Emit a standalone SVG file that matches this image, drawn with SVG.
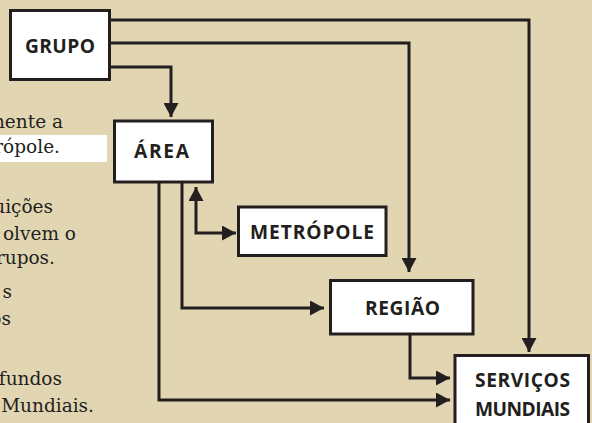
<svg xmlns="http://www.w3.org/2000/svg" width="592" height="423" viewBox="0 0 592 423">
<style>
.bg{fill:#e2d6b2}
.box{fill:#ffffff;stroke:#231f20;stroke-width:3}
.lbl{font-family:"Open Sans","Noto Sans","DejaVu Sans",sans-serif;font-weight:700;font-size:19.2px;fill:#231f20;text-anchor:middle}
.body{font-family:"DejaVu Serif","Liberation Serif",serif;font-size:18.5px;fill:#231f20;text-anchor:end}
.conn path{fill:none;stroke:#231f20;stroke-width:3}
</style>
<defs>
<marker id="ah" markerUnits="userSpaceOnUse" markerWidth="15" markerHeight="15" refX="14" refY="7.5" orient="auto-start-reverse">
<path d="M0,0 L14,7.5 L0,15 z" fill="#231f20"/>
</marker>
</defs>
<rect class="bg" x="0" y="0" width="592" height="423"/>
<g id="background-text">
<rect x="0" y="135" width="107" height="27" fill="#ffffff"/>
<text class="body" x="63" y="128">nente a</text>
<text class="body" x="60" y="153">rópole.</text>
<text class="body" x="53" y="213">uições</text>
<text class="body" x="76" y="240">olvem o</text>
<text class="body" x="55" y="264">rupos.</text>
<text class="body" x="12" y="298">s</text>
<text class="body" x="11" y="325">os</text>
<text class="body" x="62" y="385">fundos</text>
<text class="body" x="94" y="412">Mundiais.</text>
</g>
<g class="conn" id="connectors">
<path d="M111,20 H529 V352" marker-end="url(#ah)"/>
<path d="M111,43 H409 V272" marker-end="url(#ah)"/>
<path d="M111,67 H171 V117" marker-end="url(#ah)"/>
<path d="M196,187 V233 H236" marker-start="url(#ah)" marker-end="url(#ah)"/>
<path d="M182,183 V308 H324" marker-end="url(#ah)"/>
<path d="M159,183 V400 H450" marker-end="url(#ah)"/>
<path d="M410,335 V378 H450" marker-end="url(#ah)"/>
</g>
<g id="grupo">
<rect class="box" x="10.5" y="10.5" width="99" height="69"/>
<text class="lbl" x="60" y="53" textLength="70" lengthAdjust="spacing">GRUPO</text>
</g>
<g id="area">
<rect class="box" x="114.5" y="121" width="98" height="61"/>
<text class="lbl" x="161.5" y="158" textLength="55" lengthAdjust="spacing">ÁREA</text>
</g>
<g id="metropole">
<rect class="box" x="238.5" y="207" width="147.5" height="48.5"/>
<text class="lbl" x="312" y="239" textLength="124" lengthAdjust="spacing">METRÓPOLE</text>
</g>
<g id="regiao">
<rect class="box" x="330.5" y="280.5" width="142.5" height="53.5"/>
<text class="lbl" x="402.5" y="315" textLength="75" lengthAdjust="spacing">REGIÃO</text>
</g>
<g id="servicos-mundiais">
<rect class="box" x="455" y="355.5" width="133.5" height="80"/>
<text class="lbl" x="522.5" y="387" textLength="95" lengthAdjust="spacing">SERVIÇOS</text>
<text class="lbl" x="522.5" y="416" textLength="95" lengthAdjust="spacing">MUNDIAIS</text>
</g>
</svg>
